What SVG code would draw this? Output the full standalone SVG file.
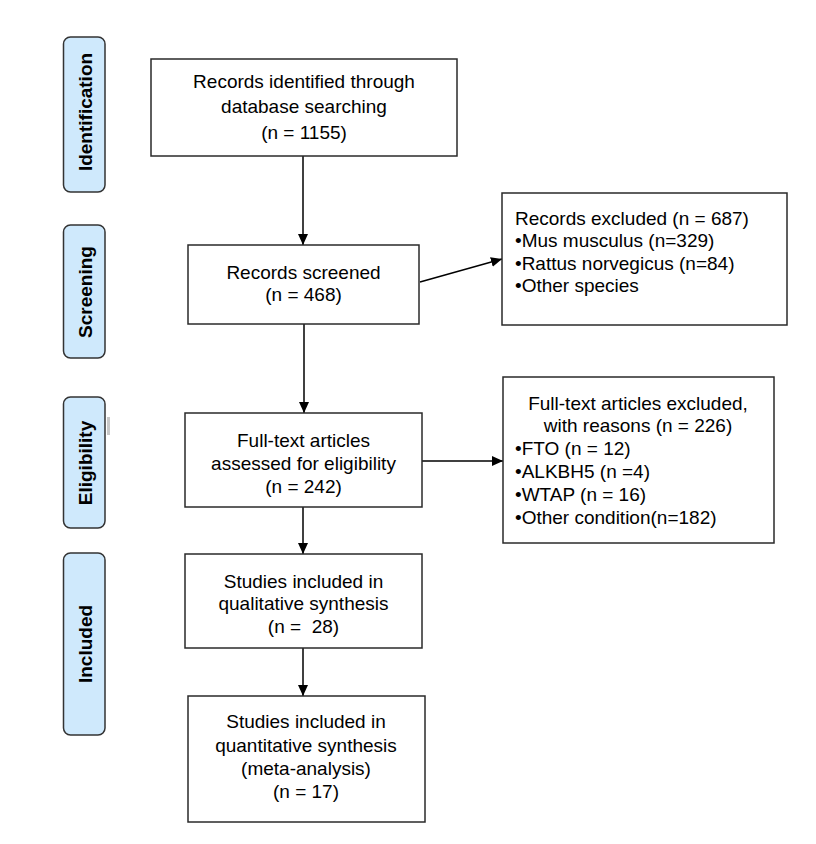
<svg xmlns="http://www.w3.org/2000/svg" width="816" height="844" viewBox="0 0 816 844">
<defs>
<style>
.box{fill:#fff;stroke:#2a2a2a;stroke-width:1.5}
.side{fill:#cfe9fc;stroke:#333;stroke-width:1.5}
.t{font-family:"Liberation Sans",Arial,sans-serif;font-size:19px;fill:#000}
.c{text-anchor:middle}
.s{font-family:"Liberation Sans",Arial,sans-serif;font-size:19px;font-weight:bold;fill:#000;text-anchor:middle}
.ln{stroke:#000;stroke-width:1.5;fill:none;marker-end:url(#ah)}
</style>
<marker id="ah" markerUnits="userSpaceOnUse" markerWidth="12" markerHeight="10" refX="11" refY="5" orient="auto">
<path d="M0,0 L11,5 L0,10 z" fill="#000"/>
</marker>
</defs>
<rect width="816" height="844" fill="#fff"/>

<g id="side-identification">
<rect class="side" x="63.5" y="37" width="41.5" height="155" rx="7"/>
<text class="s" transform="translate(92,112) rotate(-90)">Identification</text>
</g>
<g id="side-screening">
<rect class="side" x="63.5" y="225" width="41.5" height="133" rx="7"/>
<text class="s" transform="translate(92,292) rotate(-90)">Screening</text>
</g>
<g id="side-eligibility">
<rect class="side" x="63.5" y="397" width="41.5" height="131" rx="7"/>
<text class="s" transform="translate(92,463) rotate(-90)">Eligibility</text>
</g>
<g id="side-included">
<rect class="side" x="63.5" y="553" width="41.5" height="182" rx="7"/>
<text class="s" transform="translate(92,644) rotate(-90)">Included</text>
</g>
<rect x="107" y="417" width="3" height="18" fill="#c8c8c8"/>

<g id="connectors">
<line class="ln" x1="303" y1="156" x2="303" y2="245"/>
<line class="ln" x1="420" y1="282" x2="502" y2="259"/>
<line class="ln" x1="304" y1="324" x2="304" y2="413"/>
<line class="ln" x1="422" y1="461" x2="503" y2="461"/>
<line class="ln" x1="303" y1="507" x2="303" y2="554"/>
<line class="ln" x1="303" y1="648" x2="303" y2="696"/>
</g>

<g id="node-identified">
<rect class="box" x="151" y="59" width="306" height="97"/>
<text class="t c" x="304" y="88">Records identified through</text>
<text class="t c" x="304" y="113">database searching</text>
<text class="t c" x="304" y="139">(n = 1155)</text>
</g>

<g id="node-screened">
<rect class="box" x="188" y="245" width="231" height="79"/>
<text class="t c" x="303.5" y="279">Records screened</text>
<text class="t c" x="303.5" y="301">(n = 468)</text>
</g>

<g id="node-excluded">
<rect class="box" x="502" y="193" width="285" height="132"/>
<text class="t" x="515" y="225">Records excluded (n = 687)</text>
<text class="t" x="515" y="247">•Mus musculus (n=329)</text>
<text class="t" x="515" y="270">•Rattus norvegicus (n=84)</text>
<text class="t" x="515" y="292">•Other species</text>
</g>

<g id="node-fulltext">
<rect class="box" x="185" y="413" width="237" height="94"/>
<text class="t c" x="303.5" y="447">Full-text articles</text>
<text class="t c" x="303.5" y="470">assessed for eligibility</text>
<text class="t c" x="303.5" y="493">(n = 242)</text>
</g>

<g id="node-fulltext-excluded">
<rect class="box" x="503" y="377" width="271" height="166"/>
<text class="t c" x="638" y="410">Full-text articles excluded,</text>
<text class="t c" x="638" y="432">with reasons (n = 226)</text>
<text class="t" x="515" y="455">•FTO (n = 12)</text>
<text class="t" x="515" y="478">•ALKBH5 (n =4)</text>
<text class="t" x="515" y="501">•WTAP (n = 16)</text>
<text class="t" x="515" y="524">•Other condition(n=182)</text>
</g>

<g id="node-qualitative">
<rect class="box" x="185" y="554" width="237" height="94"/>
<text class="t c" x="303.5" y="588">Studies included in</text>
<text class="t c" x="303.5" y="610">qualitative synthesis</text>
<text class="t c" x="303.5" y="633" xml:space="preserve">(n =  28)</text>
</g>

<g id="node-quantitative">
<rect class="box" x="188" y="696" width="237" height="126"/>
<text class="t c" x="306" y="728">Studies included in</text>
<text class="t c" x="306" y="752">quantitative synthesis</text>
<text class="t c" x="306" y="775">(meta-analysis)</text>
<text class="t c" x="306" y="798">(n = 17)</text>
</g>
</svg>
